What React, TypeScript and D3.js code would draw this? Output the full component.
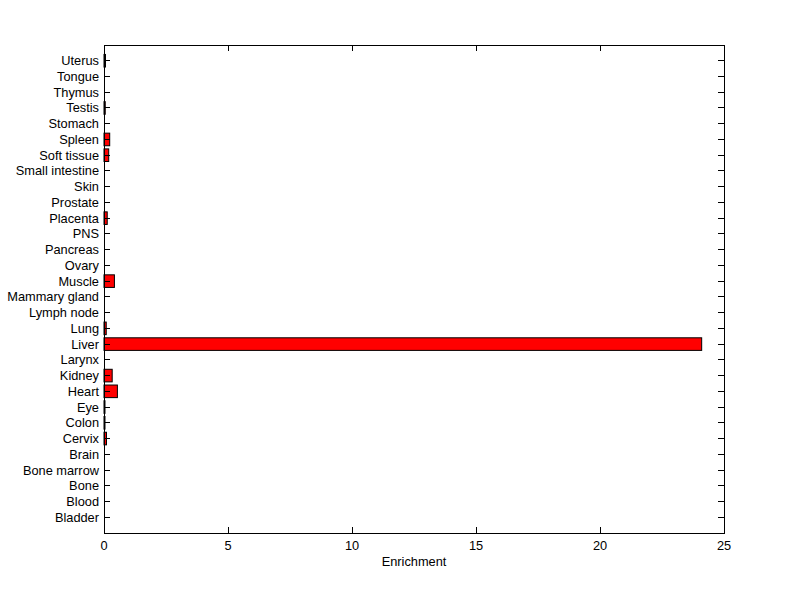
import React, { useEffect, useRef } from 'react';
import * as d3 from 'd3';

const tissues = [
  'Bladder', 'Blood', 'Bone', 'Bone marrow', 'Brain', 'Cervix', 'Colon', 'Eye',
  'Heart', 'Kidney', 'Larynx', 'Liver', 'Lung', 'Lymph node', 'Mammary gland',
  'Muscle', 'Ovary', 'Pancreas', 'PNS', 'Placenta', 'Prostate', 'Skin',
  'Small intestine', 'Soft tissue', 'Spleen', 'Stomach', 'Testis', 'Thymus',
  'Tongue', 'Uterus',
];
const enrichment = [
  0, 0, 0, 0, 0, 0.1, 0.04, 0.04,
  0.54, 0.33, 0, 24.1, 0.09, 0, 0,
  0.42, 0, 0, 0, 0.13, 0, 0,
  0, 0.19, 0.23, 0, 0.05, 0,
  0, 0.06,
];
const xTicks = [0, 5, 10, 15, 20, 25];

const App = () => {
  const svgRef = useRef<SVGSVGElement>(null);

  useEffect(() => {
    const svg = d3.select(svgRef.current);
    svg.selectAll('*').remove();

    const left = 104, right = 724, top = 45, bottom = 533;
    const font = 'Liberation Sans, Arial, sans-serif';
    const fs = 12.8;
    const tick = 6;

    const x = d3.scaleLinear().domain([0, 25]).range([left, right]);
    const y = d3.scaleLinear().domain([0, tissues.length + 1]).range([bottom, top]);
    const barH = y(0) - y(0.8);

    svg.append('rect')
      .attr('width', 800).attr('height', 599).attr('fill', '#fff');

    // bars (zero values are not drawn)
    svg.selectAll('.bar')
      .data(tissues)
      .enter().append('rect')
      .attr('x', x(0))
      .attr('y', (_, i) => y(i + 1) - barH / 2)
      .attr('width', (_, i) => x(enrichment[i]) - x(0))
      .attr('height', barH)
      .attr('fill', '#ff0000')
      .attr('stroke', '#000')
      .attr('stroke-width', 1)
      .attr('display', (_, i) => (enrichment[i] > 0 ? null : 'none'));

    // box and inward ticks
    const g = svg.append('g').attr('stroke', '#000').attr('stroke-width', 1).attr('shape-rendering', 'crispEdges');
    g.append('rect')
      .attr('x', left).attr('y', top)
      .attr('width', right - left).attr('height', bottom - top)
      .attr('fill', 'none');

    xTicks.forEach(t => {
      g.append('line').attr('x1', x(t)).attr('x2', x(t)).attr('y1', bottom).attr('y2', bottom - tick);
      g.append('line').attr('x1', x(t)).attr('x2', x(t)).attr('y1', top).attr('y2', top + tick);
    });
    tissues.forEach((_, i) => {
      g.append('line').attr('x1', left).attr('x2', left + tick).attr('y1', y(i + 1)).attr('y2', y(i + 1));
      g.append('line').attr('x1', right).attr('x2', right - tick).attr('y1', y(i + 1)).attr('y2', y(i + 1));
    });

    svg.selectAll('.xl')
      .data(xTicks)
      .enter().append('text')
      .attr('x', d => x(d))
      .attr('y', bottom + 17)
      .attr('text-anchor', 'middle')
      .attr('font-family', font)
      .attr('font-size', fs)
      .text(d => d);

    svg.selectAll('.yl')
      .data(tissues)
      .enter().append('text')
      .attr('x', left - 5)
      .attr('y', (_, i) => y(i + 1))
      .attr('dy', '0.35em')
      .attr('text-anchor', 'end')
      .attr('font-family', font)
      .attr('font-size', fs)
      .text(d => d);

    svg.append('text')
      .attr('x', (left + right) / 2)
      .attr('y', 566)
      .attr('text-anchor', 'middle')
      .attr('font-family', font)
      .attr('font-size', fs)
      .text('Enrichment');
  }, []);

  return (
    <svg
      ref={svgRef}
      width={800}
      height={599}
      style={{ position: 'absolute', left: 0, top: 0, overflow: 'visible' }}
    />
  );
};

export default App;
